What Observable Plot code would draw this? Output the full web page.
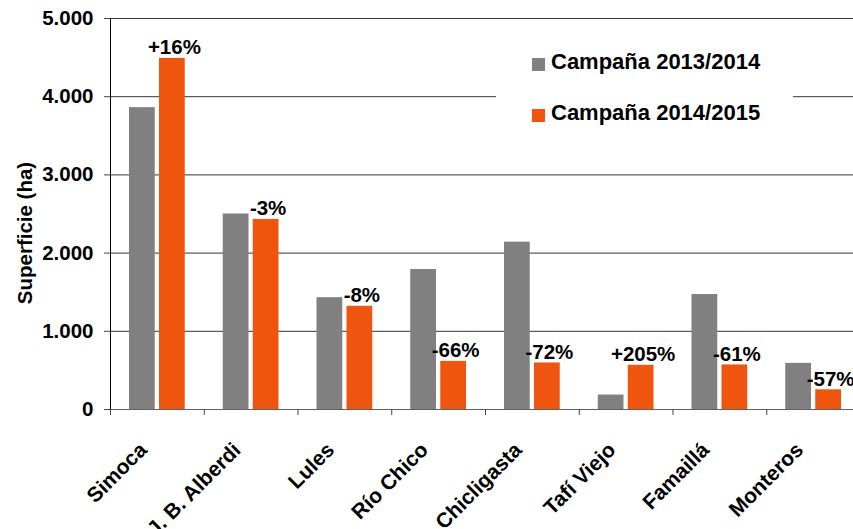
<!DOCTYPE html>
<html>
<head>
<meta charset="utf-8">
<script src="https://cdn.jsdelivr.net/npm/d3@7"></script>
<script src="https://cdn.jsdelivr.net/npm/@observablehq/plot@0.6"></script>
<style>
  html, body { margin: 0; padding: 0; overflow: hidden; background: white; }
  #wrap { position: relative; width: 853px; height: 529px; overflow: hidden; font-family: "Liberation Sans", Arial, sans-serif; }
  #legend { position: absolute; left: 496px; top: 44px; width: 297px; height: 92px; background: white; }
  .item { position: absolute; left: 0; width: 297px; height: 22px; }
  .sw { position: absolute; left: 36px; width: 13px; height: 13px; }
  .lab { position: absolute; left: 55px; top: 0; font-size: 22px; line-height: 22px; font-weight: bold; color: #000; white-space: nowrap; }
</style>
</head>
<body>
<div id="wrap"></div>
<script>
const categories = ["Simoca", "J. B. Alberdi", "Lules", "Río Chico", "Chicligasta", "Tafí Viejo", "Famaillá", "Monteros"];
const campana1314 = [3860, 2500, 1430, 1790, 2140, 185, 1470, 590];
const campana1415 = [4490, 2430, 1320, 615, 595, 565, 570, 252];
const changes = ["+16%", "-3%", "-8%", "-66%", "-72%", "+205%", "-61%", "-57%"];
const seriesNames = ["Campaña 2013/2014", "Campaña 2014/2015"];
const seriesColors = ["#808080", "#F0550F"];
const yTicks = [0, 1000, 2000, 3000, 4000, 5000];
const yLabel = "Superficie (ha)";

const esFormat = d3.formatLocale({decimal: ",", thousands: ".", grouping: [3], currency: ["", ""]}).format(",");

const W = 853, H = 529;
const mL = 110, mT = 18, mB = 120;
const xRange = [110, 860];
const bw = (xRange[1] - xRange[0]) / categories.length;

const chart = Plot.plot({
  width: W,
  height: H,
  marginLeft: mL,
  marginRight: 0,
  marginTop: mT,
  marginBottom: mB,
  style: {fontFamily: "'Liberation Sans', Arial, sans-serif", fontWeight: "bold", color: "#000", background: "white", overflow: "hidden"},
  x: {type: "band", domain: categories, range: xRange, padding: 0, round: false},
  y: {domain: [0, 5000]},
  marks: [
    Plot.gridY(yTicks, {stroke: "#333", strokeOpacity: 1}),
    Plot.barY(categories, {x: d => d, y: (d, i) => campana1314[i], fill: seriesColors[0], insetLeft: 19, insetRight: 49}),
    Plot.barY(categories, {x: d => d, y: (d, i) => campana1415[i], fill: seriesColors[1], insetLeft: 49, insetRight: 19}),
    Plot.ruleY([0], {stroke: "#666", strokeOpacity: 0.9}),
    Plot.ruleX([categories[0]], {y1: 0, y2: 5000, dx: -bw / 2, stroke: "#000"}),
    Plot.axisY(yTicks, {tickSize: 6, tickPadding: 11, tickFormat: esFormat, fontSize: 20.5, fontWeight: "bold", fill: "#000", stroke: "#444", label: null}),
    Plot.axisX({tickSize: 6, fill: "none", dx: -bw / 2, stroke: "#444", label: null}),
    Plot.axisX({tickSize: 0, tickRotate: -45, tickPadding: 37, dx: -14, fontSize: 21, fontWeight: "bold", fill: "#000", label: null}),
    Plot.text(categories, {x: d => d, y: (d, i) => campana1415[i], text: (d, i) => changes[i], dx: 17, dy: -4, lineAnchor: "bottom", fontSize: 20.5, fontWeight: "bold", fill: "#000"}),
    Plot.text([yLabel], {frameAnchor: "left", textAnchor: "middle", rotate: -90, dx: -85, dy: 19, fontSize: 20.5, fontWeight: "bold", fill: "#000"})
  ]
});

const wrap = document.getElementById("wrap");
wrap.appendChild(chart);

const legend = document.createElement("div");
legend.id = "legend";
const tops = [7, 58];
const swTops = [7, 7];
seriesNames.forEach((name, i) => {
  const item = document.createElement("div");
  item.className = "item";
  item.style.top = tops[i] + "px";
  const sw = document.createElement("div");
  sw.className = "sw";
  sw.style.background = seriesColors[i];
  sw.style.top = swTops[i] + "px";
  const lab = document.createElement("div");
  lab.className = "lab";
  lab.textContent = name;
  item.appendChild(sw);
  item.appendChild(lab);
  legend.appendChild(item);
});
wrap.appendChild(legend);
</script>
</body>
</html>
